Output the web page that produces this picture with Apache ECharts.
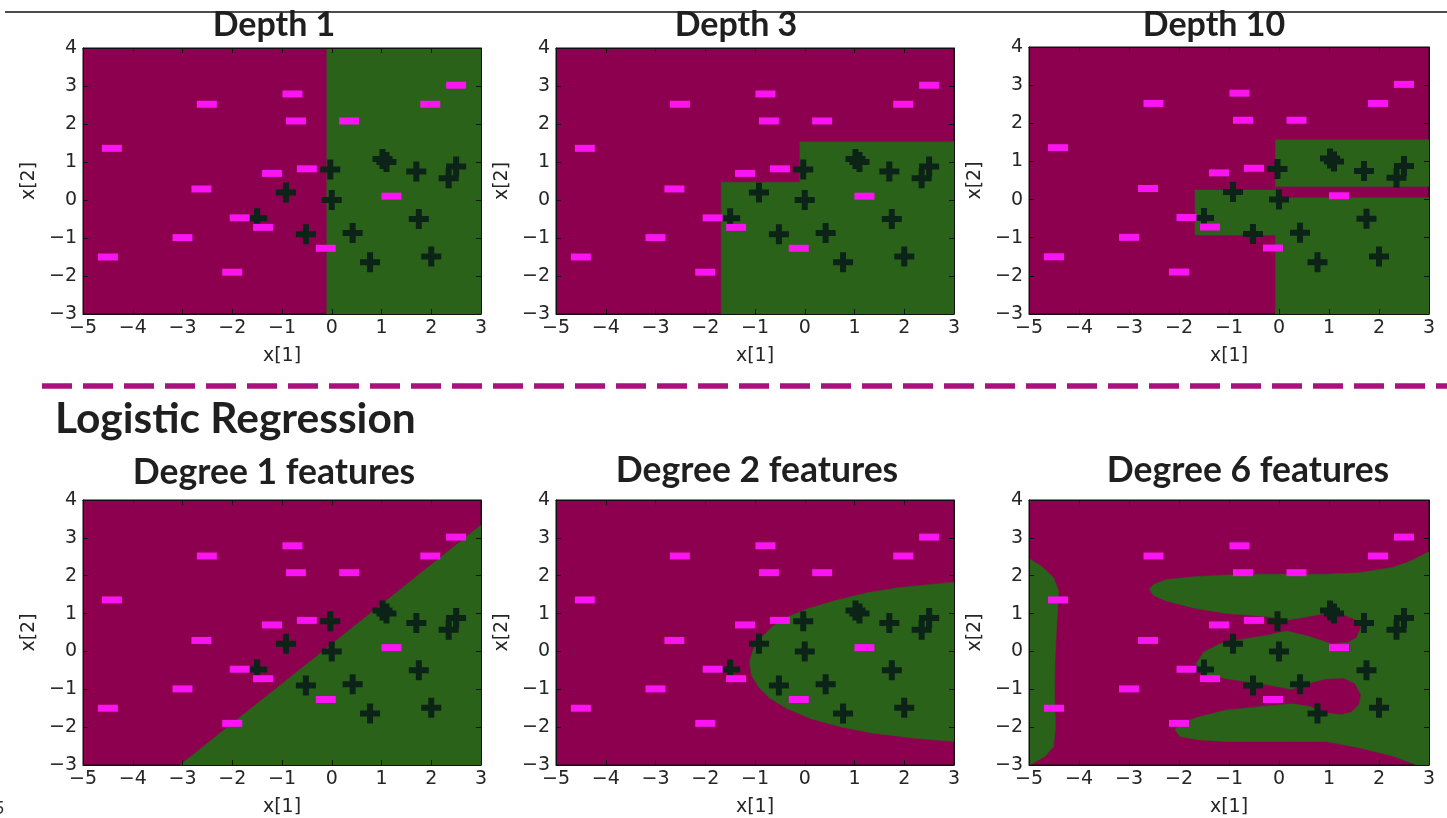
<!DOCTYPE html>
<html>
<head>
<meta charset="utf-8">
<script src="https://cdn.jsdelivr.net/npm/echarts@6/dist/echarts.min.js"></script>
<style>
html,body{margin:0;padding:0;background:#fff;}
#chart{width:1447px;height:818px;}
</style>
</head>
<body>
<div id="chart"></div>
<script>
// ---------- data ----------
const xTicks = [-5, -4, -3, -2, -1, 0, 1, 2, 3];
const yTicks = [-3, -2, -1, 0, 1, 2, 3, 4];
const xName = 'x[1]';
const yName = 'x[2]';
const panelTitles = ['Depth 1', 'Depth 3', 'Depth 10', 'Degree 1 features', 'Degree 2 features', 'Degree 6 features'];
const sectionTitle = 'Logistic Regression';

// negative class (“−” markers)
const minusX = [-4.42, -4.50, -2.51, -2.62, -3.00, -2.00, -1.85, -1.38, -1.20, -0.79, -0.72, -0.50, -0.12, 0.35, 1.20, 1.98, 2.50];
const minusY = [1.36, -1.50, 2.52, 0.29, -0.99, -1.90, -0.47, -0.72, 0.70, 2.79, 2.08, 0.82, -1.27, 2.08, 0.10, 2.52, 3.02];
// positive class (“+” markers)
const plusX = [-0.03, 0.00, -0.92, -1.50, -0.52, 0.42, 0.77, 1.02, 1.10, 1.70, 2.35, 2.50, 1.75, 2.00];
const plusY = [0.80, 0.00, 0.20, -0.48, -0.90, -0.87, -1.64, 1.08, 1.00, 0.75, 0.57, 0.88, -0.50, -1.49];

// green (positive) decision regions, as polygons in data coordinates
const regionDepth1 = [
  [[-0.10, -3], [3, -3], [3, 4], [-0.10, 4]]
];
const regionDepth3 = [
  [[-1.68, -3], [3, -3], [3, 1.53], [-0.10, 1.53], [-0.10, 0.47], [-1.68, 0.47]]
];
const regionDepth10 = [
  [[-0.07, 0.34], [3, 0.34], [3, 1.57], [-0.07, 1.57]],
  [[-1.68, 0.25], [-0.07, 0.25], [-0.07, 0.05], [3, 0.05], [3, -3], [-0.07, -3], [-0.07, -0.93], [-1.68, -0.93]]
];
const regionDegree1 = [
  [[-3.05, -3], [3, -3], [3, 3.34]]
];
const regionDegree2 = [
  [[3, 1.83], [1.91, 1.69], [1.25, 1.55], [0.58, 1.33], [0.04, 1.12], [-0.36, 0.90], [-0.63, 0.68], [-0.87, 0.37],
   [-1.03, 0.07], [-1.11, -0.28], [-1.07, -0.63], [-0.93, -0.94], [-0.70, -1.24], [-0.36, -1.51], [0.11, -1.77],
   [0.71, -1.99], [1.38, -2.16], [2.18, -2.29], [3, -2.38]]
];
const regionDegree6 = [
  [[-5, 2.45], [-4.75, 2.25], [-4.51, 1.95], [-4.41, 1.60], [-4.43, 1.00], [-4.45, 0.64], [-4.48, -0.24],
   [-4.49, -1.11], [-4.47, -1.99], [-4.51, -2.51], [-4.68, -2.77], [-4.91, -2.95], [-5, -3]],
  [[3, 2.63], [2.62, 2.38], [2.27, 2.22], [1.60, 2.08], [0.95, 2.04], [0.29, 2.04], [-0.38, 2.04], [-1.05, 2.02],
   [-1.71, 1.97], [-2.25, 1.90], [-2.51, 1.77], [-2.59, 1.64], [-2.51, 1.48], [-2.25, 1.33], [-1.71, 1.15],
   [-1.05, 1.00], [-0.50, 0.95], [-0.10, 0.90], [0.12, 0.82], [0.50, 0.90], [0.92, 1.00], [1.25, 0.99],
   [1.52, 0.85], [1.64, 0.64], [1.55, 0.37], [1.39, 0.24], [1.05, 0.20], [0.59, 0.40], [0.15, 0.54],
   [-0.25, 0.42], [-0.71, 0.33], [-1.18, 0.20], [-1.51, -0.02], [-1.66, -0.33], [-1.45, -0.63], [-1.05, -0.72],
   [-0.38, -0.85], [0.25, -1.00], [0.62, -0.83], [0.95, -0.72], [1.29, -0.70], [1.52, -0.85], [1.64, -1.15],
   [1.60, -1.40], [1.45, -1.60], [1.25, -1.67], [0.92, -1.62], [0.60, -1.45], [0.25, -1.38], [-0.38, -1.46],
   [-1.05, -1.55], [-1.58, -1.72], [-1.98, -1.90], [-2.08, -2.07], [-1.98, -2.25], [-1.58, -2.34],
   [-1.05, -2.38], [0.29, -2.38], [0.95, -2.38], [1.62, -2.55], [2.29, -2.77], [2.75, -3], [3, -3]]
];
const panelRegions = [regionDepth1, regionDepth3, regionDepth10, regionDegree1, regionDegree2, regionDegree6];

// ---------- style ----------
const MAGENTA = '#8c004f';
const GREEN = '#2a621a';
const PINK = '#fa14f2';
const DARK = '#0b2417';
const AXIS_FONT = 'DejaVu Sans';
const TITLE_FONT = 'Lato';
const LABEL_COLOR = '#262626';

const grids = [
  {left: 83, top: 48, width: 398, height: 266},
  {left: 556, top: 48, width: 398, height: 266},
  {left: 1029, top: 47, width: 400, height: 267},
  {left: 83, top: 500, width: 398, height: 267},
  {left: 556, top: 500, width: 398, height: 267},
  {left: 1029, top: 500, width: 400, height: 267}
];
const titlePos = [[274, 25], [736, 25], [1214, 25], [274, 473], [757, 471], [1248, 471]];
const titleSize = [34, 34, 34, 35.5, 35.5, 35.5];

const fmt = v => (v < 0 ? '\u2212' + Math.abs(v) : String(v));
const PLUS_PATH = 'path://M7,0H13V7H20V13H13V20H7V13H0V7H7Z';

const option = {
  animation: false,
  backgroundColor: '#ffffff',
  grid: [], xAxis: [], yAxis: [], series: [],
  graphic: []
};

grids.forEach((g, i) => {
  option.grid.push(Object.assign({
    show: true, backgroundColor: MAGENTA, borderColor: '#111', borderWidth: 1, containLabel: false
  }, g));
  const common = {
    gridIndex: i, type: 'value', z: 5,
    splitLine: {show: false},
    axisLine: {show: true, onZero: false, lineStyle: {color: '#111', width: 1}},
    axisTick: {show: true, inside: true, length: 5, lineStyle: {color: '#111', width: 1}}
  };
  const xMain = Object.assign({}, common, {
    position: 'bottom', min: xTicks[0], max: xTicks[xTicks.length - 1], interval: 1,
    axisLabel: {show: true, formatter: fmt, fontFamily: AXIS_FONT, fontSize: 19, color: LABEL_COLOR, margin: 5},
    name: xName, nameLocation: 'middle', nameGap: 33,
    nameTextStyle: {fontFamily: AXIS_FONT, fontSize: 19, color: LABEL_COLOR}
  });
  const xTop = Object.assign({}, common, {
    position: 'top', min: xTicks[0], max: xTicks[xTicks.length - 1], interval: 1,
    axisLabel: {show: false}
  });
  const yMain = Object.assign({}, common, {
    position: 'left', min: yTicks[0], max: yTicks[yTicks.length - 1], interval: 1,
    axisLabel: {show: true, formatter: fmt, fontFamily: AXIS_FONT, fontSize: 19, color: LABEL_COLOR, margin: 6},
    name: yName, nameLocation: 'middle', nameGap: 44,
    nameTextStyle: {fontFamily: AXIS_FONT, fontSize: 19, color: LABEL_COLOR}
  });
  const yRight = Object.assign({}, common, {
    position: 'right', min: yTicks[0], max: yTicks[yTicks.length - 1], interval: 1,
    axisLabel: {show: false}
  });
  option.xAxis.push(xMain, xTop);
  option.yAxis.push(yMain, yRight);

  const polys = panelRegions[i];
  option.series.push({
    type: 'custom', xAxisIndex: 2 * i, yAxisIndex: 2 * i, clip: true, silent: true, z: 1,
    data: polys.map((_, k) => k),
    renderItem: (params, api) => ({
      type: 'polygon',
      shape: {points: polys[params.dataIndex].map(p => api.coord(p))},
      style: {fill: GREEN, stroke: GREEN, lineWidth: 0.5}
    })
  });
  option.series.push({
    type: 'scatter', xAxisIndex: 2 * i, yAxisIndex: 2 * i, z: 3, silent: true,
    symbol: PLUS_PATH, symbolSize: [20, 20], symbolKeepAspect: false,
    itemStyle: {color: DARK, opacity: 1},
    data: plusX.map((x, k) => [x, plusY[k]])
  });
  option.series.push({
    type: 'scatter', xAxisIndex: 2 * i, yAxisIndex: 2 * i, z: 4, silent: true,
    symbol: 'rect', symbolSize: [20, 7],
    itemStyle: {color: PINK, opacity: 1},
    data: minusX.map((x, k) => [x, minusY[k]])
  });

  option.graphic.push({
    type: 'text', x: titlePos[i][0], y: titlePos[i][1], z: 10,
    style: {text: panelTitles[i], font: 'bold ' + titleSize[i] + 'px ' + TITLE_FONT, fill: '#1f1f1f', textAlign: 'center', textVerticalAlign: 'middle'}
  });
});

option.graphic.push(
  {type: 'line', z: 9, shape: {x1: 5, y1: 12, x2: 1447, y2: 12}, style: {stroke: '#111', lineWidth: 1.5}},
  {type: 'line', z: 9, shape: {x1: 42, y1: 386, x2: 1447, y2: 386}, style: {stroke: '#a8127c', lineWidth: 5.5, lineDash: [30, 11]}},
  {type: 'text', x: 55, y: 419, z: 10,
   style: {text: sectionTitle, font: 'bold 42.5px ' + TITLE_FONT, fill: '#1f1f1f', textAlign: 'left', textVerticalAlign: 'middle'}},
  {type: 'text', x: -6, y: 808, z: 10,
   style: {text: '5', font: '18px ' + TITLE_FONT, fill: '#333', textAlign: 'left', textVerticalAlign: 'middle'}}
);

const chart = echarts.init(document.getElementById('chart'), null, {renderer: 'canvas'});
chart.setOption(option);
</script>
</body>
</html>
